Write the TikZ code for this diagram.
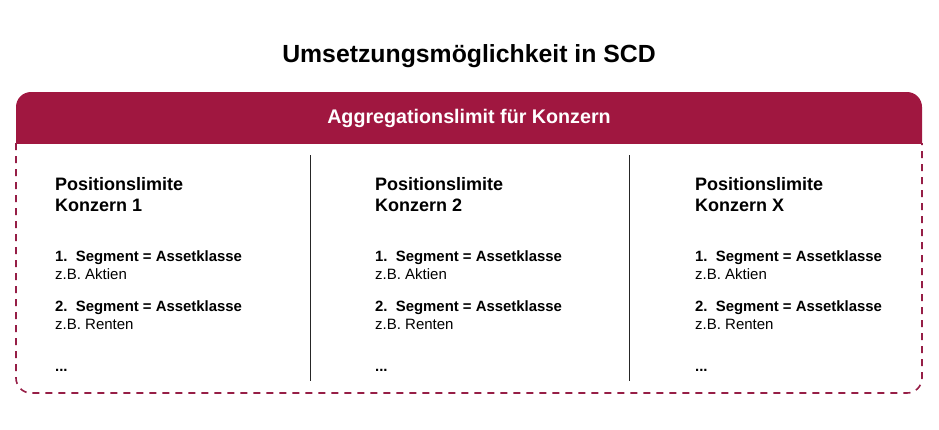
\documentclass[tikz,border=0pt]{standalone}
\usepackage{fontspec}
\setmainfont{Liberation Sans}
\definecolor{hdrred}{RGB}{160,23,64}
\definecolor{dashred}{RGB}{150,30,70}
\tikzset{
  txt/.style={anchor=base west, inner sep=0pt, font=\fontsize{15}{18}\selectfont},
  ttl/.style={txt, font=\bfseries\fontsize{18}{21}\selectfont},
  seg/.style={txt, font=\bfseries\fontsize{14.9}{18}\selectfont},
  sub/.style={txt, font=\fontsize{15}{18}\selectfont},
}
\begin{document}
\begin{tikzpicture}[x=1pt,y=-1pt]
\useasboundingbox (0,0) rectangle (939,429);
\node[inner sep=0pt, anchor=base, font=\bfseries\fontsize{24.8}{29}\selectfont] (title) at (469,62) {Umsetzungsmöglichkeit in SCD};
\begin{scope}
\clip (16,92) rectangle (922,143);
\fill[hdrred, rounded corners=15pt] (16,92) rectangle (922,200);
\end{scope}
\node[inner sep=0pt, anchor=base, text=white, font=\bfseries\fontsize{19.7}{23}\selectfont] (hdr) at (469,123) {Aggregationslimit für Konzern};
\draw[dashred, line width=1.6pt, dash pattern=on 7pt off 6pt, rounded corners=15pt] (16,143) -- (16,393) -- (922,393) -- (922,143);
\coordinate (d1t) at (310,155); \coordinate (d1b) at (310,381);
\coordinate (d2t) at (629,155); \coordinate (d2b) at (629,381);
\draw[black!85, line width=0.8pt] (d1t) -- (d1b);
\draw[black!85, line width=0.8pt] (d2t) -- (d2b);
\foreach \x/\n/\k in {55/a/1, 375/b/2, 695/c/X}{
  \node[ttl] (\n1) at (\x,190) {Positionslimite};
  \node[ttl] (\n2) at (\x,211) {Konzern \k};
  \node[seg] (\n3) at (\x,261) {1.\ \ Segment = Assetklasse};
  \node[sub] (\n4) at (\x,279) {z.B. Aktien};
  \node[seg] (\n5) at (\x,311) {2.\ \ Segment = Assetklasse};
  \node[sub] (\n6) at (\x,329) {z.B. Renten};
  \node[seg] (\n7) at (\x,371) {...};
}
\end{tikzpicture}
\end{document}
